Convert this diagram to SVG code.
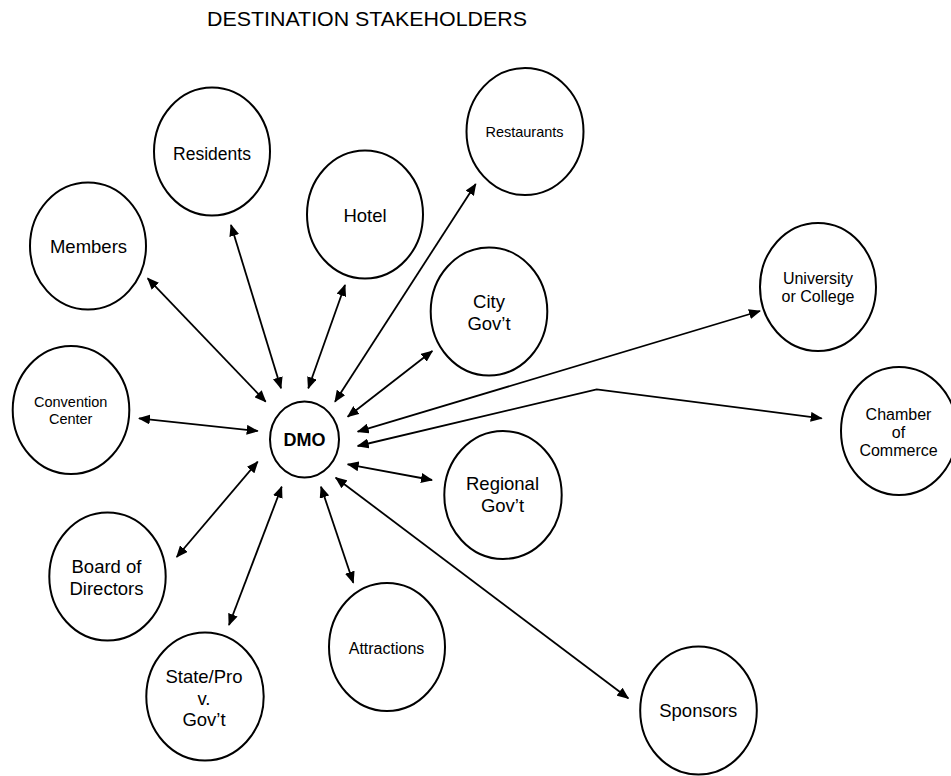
<svg xmlns="http://www.w3.org/2000/svg" width="951" height="776" viewBox="0 0 951 776">
  <style>
    .node ellipse { fill: #fff; stroke: #000; stroke-width: 2; }
    .node text { font-family: "Liberation Sans", Arial, sans-serif; fill: #000; text-anchor: middle; }
    .lg { font-size: 18.5px; }
    .md { font-size: 16px; }
    .sm { font-size: 14.5px; }
    .title { font-family: "Liberation Sans", Arial, sans-serif; font-size: 21px; fill: #000; }
    .conn line, .conn polyline { fill: none; stroke: #000; stroke-width: 1.8; marker-start: url(#ah); marker-end: url(#ah); }
  </style>
  <defs>
    <marker id="ah" viewBox="0 0 12 10" refX="11" refY="5" markerWidth="12" markerHeight="10" markerUnits="userSpaceOnUse" orient="auto-start-reverse">
      <path d="M0,0 L12,5 L0,10 z" fill="#000"/>
    </marker>
  </defs>
  <rect width="951" height="776" fill="#fff"/>

  <text class="title" x="207" y="26" textLength="320" lengthAdjust="spacingAndGlyphs">DESTINATION STAKEHOLDERS</text>

  <!-- connectors: every link is two-way -->
  <g id="connectors" class="conn">
    <line x1="147.7" y1="278.3" x2="265.7" y2="401.7"/>
    <line x1="231" y1="225" x2="281" y2="388.3"/>
    <line x1="345" y1="285" x2="308.3" y2="388.3"/>
    <line x1="475.7" y1="184" x2="335" y2="401.7"/>
    <line x1="432.3" y1="351" x2="347.7" y2="416.7"/>
    <line x1="760" y1="311" x2="357.7" y2="431.7"/>
    <polyline points="357.7,446 596.7,389.3 821.7,418.3"/>
    <line x1="139" y1="418.3" x2="257.7" y2="431"/>
    <line x1="432" y1="480" x2="347.7" y2="464.3"/>
    <line x1="176.7" y1="557" x2="257.7" y2="461.7"/>
    <line x1="229" y1="625" x2="281.7" y2="486.7"/>
    <line x1="353.3" y1="582.7" x2="321" y2="486.7"/>
    <line x1="628.3" y1="698.3" x2="335.7" y2="477.7"/>
  </g>

  <g id="dmo" class="node">
    <ellipse cx="304.5" cy="439.5" rx="34.5" ry="38"/>
    <text x="304.5" y="446" style="font-size:18px;font-weight:bold">DMO</text>
  </g>
  <g id="residents" class="node">
    <ellipse cx="212" cy="151.5" rx="58" ry="64"/>
    <text class="lg" x="212" y="159.5" style="font-size:17.5px">Residents</text>
  </g>
  <g id="members" class="node">
    <ellipse cx="88" cy="246" rx="58" ry="63.5"/>
    <text class="lg" x="88.5" y="253">Members</text>
  </g>
  <g id="hotel" class="node">
    <ellipse cx="365" cy="214.5" rx="58" ry="64"/>
    <text class="lg" x="365" y="221.5">Hotel</text>
  </g>
  <g id="restaurants" class="node">
    <ellipse cx="525" cy="131.5" rx="58.5" ry="63.5"/>
    <text class="sm" x="524.5" y="137.3">Restaurants</text>
  </g>
  <g id="city-govt" class="node">
    <ellipse cx="489" cy="311.5" rx="58.3" ry="64"/>
    <text class="lg" x="489" y="308">City</text>
    <text class="lg" x="489" y="329.5">Gov’t</text>
  </g>
  <g id="university" class="node">
    <ellipse cx="818" cy="287" rx="58" ry="64"/>
    <text class="md" x="818" y="284">University</text>
    <text class="md" x="818" y="302">or College</text>
  </g>
  <g id="chamber" class="node">
    <ellipse cx="899" cy="431" rx="58" ry="64"/>
    <text class="md" x="898.5" y="420">Chamber</text>
    <text class="md" x="898.5" y="438">of</text>
    <text class="md" x="898.5" y="456">Commerce</text>
  </g>
  <g id="convention" class="node">
    <ellipse cx="71" cy="410" rx="58.3" ry="64"/>
    <text class="sm" x="70.7" y="407.3">Convention</text>
    <text class="sm" x="70.7" y="424.3">Center</text>
  </g>
  <g id="regional-govt" class="node">
    <ellipse cx="503" cy="495" rx="58.7" ry="64"/>
    <text class="lg" x="502.5" y="490">Regional</text>
    <text class="lg" x="502.5" y="512">Gov’t</text>
  </g>
  <g id="board" class="node">
    <ellipse cx="107.5" cy="576.5" rx="58.2" ry="64"/>
    <text class="lg" x="106.5" y="573">Board of</text>
    <text class="lg" x="106.5" y="595">Directors</text>
  </g>
  <g id="state-govt" class="node">
    <ellipse cx="205" cy="696.5" rx="58.7" ry="64"/>
    <text class="lg" x="204" y="683">State/Pro</text>
    <text class="lg" x="204" y="704.5">v.</text>
    <text class="lg" x="204" y="726">Gov’t</text>
  </g>
  <g id="attractions" class="node">
    <ellipse cx="387" cy="647" rx="58" ry="64"/>
    <text class="md" x="386.5" y="654">Attractions</text>
  </g>
  <g id="sponsors" class="node">
    <ellipse cx="698.5" cy="710.5" rx="58.3" ry="64"/>
    <text class="lg" x="698.3" y="717.3">Sponsors</text>
  </g>
</svg>
